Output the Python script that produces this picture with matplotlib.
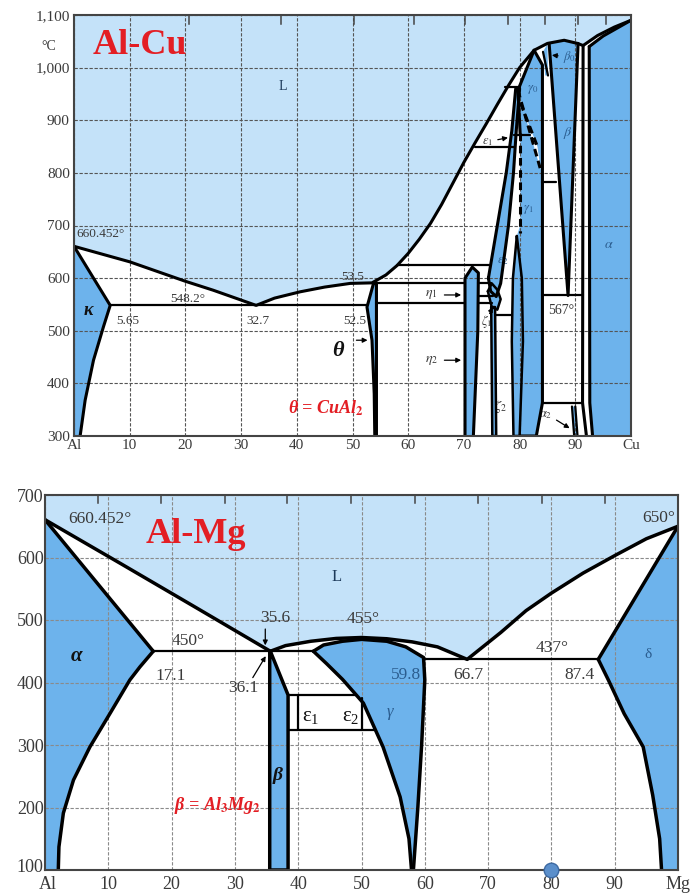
import matplotlib
matplotlib.use("Agg")
import matplotlib.pyplot as plt
import matplotlib.transforms as mtransforms

plt.rcParams['font.family'] = ['Liberation Serif', 'DejaVu Serif']
plt.rcParams['mathtext.fontset'] = 'stix'

LIQ = '#c4e2f9'
SOL = '#6db3ec'
RED = '#e31e24'
TXT = '#3a3a3a'
PH = '#2b5d8f'

# ---------------- Al-Cu data (wt% Cu, deg C) ----------------
cu_liq_left = [(0, 660.452), (10, 631), (20, 594), (25, 577), (32.7, 548.2)]
cu_liq_mid = [(32.7, 548.2), (36, 562), (40.6, 574), (45, 583), (49.6, 590), (53.5, 591)]
cu_liq_right = [(53.5, 591), (56, 606), (58, 624), (60, 647), (62, 674), (64, 704), (66, 740),
                (68, 780), (70, 820), (72, 857), (74, 893), (76, 930), (78, 966),
                (80, 1000), (82.6, 1033)]
cu_dome = [(82.6, 1033), (85, 1046), (88, 1052), (90.4, 1046), (91.4, 1042)]
cu_end_liq = [(91.4, 1042), (94, 1061), (97, 1077), (100, 1090)]
cu_end_sol = [(92.5, 1040), (95, 1060), (97.5, 1075), (100, 1090)]
kappa = [(0, 660.452), (6.5, 548.2), (5.3, 508), (3.5, 444), (2.0, 368), (1.1, 300), (0, 300)]
theta = [(53.8, 591), (52.6, 545), (53.5, 482), (53.9, 380), (54.0, 300), (54.3, 300), (54.3, 591)]
eta = [(70.2, 300), (70.2, 600), (71.5, 621), (72.6, 610), (72.5, 500), (71.7, 300)]
eps_band = [(74.4, 600), (76.0, 700), (77.6, 800), (78.6, 880), (79.3, 960), (80.0, 960),
            (79.4, 880), (78.9, 800), (78.0, 700), (76.6, 590), (75.8, 565), (74.8, 575)]
zeta1 = [(74.3, 575), (75.0, 590), (76.0, 578), (76.6, 560), (76.0, 540), (75.0, 545)]
zeta2 = [(74.9, 545), (75.6, 545), (75.8, 300), (75.1, 300)]
lens = [(79.5, 680), (78.8, 600), (78.6, 480), (78.9, 300), (80.0, 300), (80.6, 480), (80.4, 600)]
gamma_cu = [(82.6, 1033), (84.1, 1005), (84.1, 363), (83.0, 300), (80.0, 300), (80.6, 480),
            (80.4, 600), (79.5, 680), (80.1, 700), (80.1, 875), (79.7, 957)]
gamma_gap = [(79.7, 957), (83.8, 805), (83.2, 850), (80.2, 932)]
beta_cu = [(85.3, 1046), (88, 1052), (90.4, 1046), (88.7, 567)]
beta0 = [(84.2, 1030), (85.0, 1045), (85.1, 985), (84.6, 985)]
alpha_cu = [(92.5, 1040), (95, 1060), (97.5, 1075), (100, 1090), (100, 300), (93.1, 300), (92.6, 363)]
alpha2 = [(89.4, 356), (90.0, 356), (90.4, 300), (89.8, 300)]
cu_hlines = [(6.5, 52.6, 548.2), (58.0, 74.5, 624), (54.3, 70.2, 590), (72.6, 74.8, 590),
             (72.5, 75.3, 566), (54.3, 70.2, 553), (72.5, 75.0, 553), (75.8, 78.7, 530),
             (77.3, 80.0, 963), (72.0, 79.2, 850), (79.0, 81.9, 872), (84.1, 86.6, 783),
             (84.1, 91.3, 567), (84.1, 91.3, 363)]
cu_at_ticks = [20.7, 37.1, 50.3, 61.1, 70.2, 77.9, 84.6, 90.4, 95.5]

# ---------------- Al-Mg data (wt% Mg, deg C) ----------------
mg_liq_left = [(0, 660.452), (12, 590), (24, 519), (35.6, 450)]
mg_liq_mid = [(35.6, 450), (38, 459), (42, 466), (46, 470.5), (50, 472), (54, 470),
              (58, 465), (62, 457), (66.7, 437)]
mg_liq_right = [(66.7, 437), (72, 480), (76, 515), (80, 543), (85, 575), (90, 603),
                (95, 630), (100, 650)]
al_solidus = [(0, 660.452), (17.1, 450)]
al_solvus = [(17.1, 450), (15, 425), (13.4, 404), (10.3, 351), (7.1, 297), (4.5, 244),
             (2.9, 191), (2.2, 137), (2.1, 100)]
mg_solidus = [(100, 650), (87.4, 437)]
mg_solvus = [(87.4, 437), (89, 404), (91.5, 350), (94.5, 297), (96, 220), (97.1, 150), (97.4, 100)]
beta_mg = [(35.5, 450), (35.5, 100), (38.4, 100), (38.4, 380), (35.6, 450)]
gamma_top = [(42.4, 450), (44, 460), (47, 466), (50, 469), (54, 466), (57, 457), (59.8, 440)]
gamma_right = [(59.8, 440), (60.0, 404), (59.5, 300), (58.9, 200), (58.2, 100)]
gamma_left = [(42.4, 450), (44.5, 430), (47, 405), (50.3, 367), (53.4, 297), (56.1, 217),
              (57.5, 150), (57.9, 100)]
mg_hlines = [(17.1, 42.4, 450), (59.8, 87.4, 437), (38.4, 49.2, 380), (38.4, 52.2, 324)]
mg_vlines = [(40.0, 324, 380), (50.0, 324, 375)]
mg_at_ticks = [8.3, 18.4, 28.4, 38.3, 48.3, 58.5, 68.4, 78.5, 88.5]


def xs(p):
    return [a for a, b in p]


def ys(p):
    return [b for a, b in p]


def fill(ax, pts, c):
    ax.fill(xs(pts), ys(pts), color=c, lw=0, zorder=1)


def line(ax, pts, lw=2.2, ls='-'):
    ax.plot(xs(pts), ys(pts), color='k', lw=lw, ls=ls, zorder=4,
            solid_joinstyle='round', solid_capstyle='round')


def arrow(ax, x0, y0, x1, y1):
    ax.annotate('', xy=(x1, y1), xytext=(x0, y0),
                arrowprops=dict(arrowstyle='-|>', color='k', lw=0.9, mutation_scale=7), zorder=5)


def style(ax, ymin, ymax, yt, ylabels, right_name, fs, gridc, at_ticks):
    ax.set_xlim(0, 100)
    ax.set_ylim(ymin, ymax)
    ax.set_xticks(range(0, 101, 10))
    ax.set_xticklabels(['Al'] + [str(v) for v in range(10, 100, 10)] + [right_name])
    ax.set_yticks(yt)
    ax.set_yticklabels(ylabels)
    ax.tick_params(length=0, labelsize=fs, colors=TXT)
    ax.tick_params(axis='y', pad=3)
    ax.tick_params(axis='x', pad=2)
    ax.grid(True, color=gridc, ls=(0, (3, 1.5)), lw=0.8)
    ax.set_axisbelow(False)
    for s in ax.spines.values():
        s.set_color('#444')
        s.set_linewidth(1.5)
        s.set_zorder(6)
    tr = ax.get_xaxis_transform()
    for x in at_ticks:
        ax.plot([x, x], [1, 0.978], transform=tr, color='#444', lw=1.1, zorder=6)


fig = plt.figure(figsize=(6.98, 8.94), dpi=100)
ax1 = fig.add_axes([74 / 698, 1 - 436 / 894, 557 / 698, 421 / 894])
ax2 = fig.add_axes([45 / 698, 1 - 870 / 894, 633 / 698, 375 / 894])

# ================= Al-Cu =================
liquid_cu = cu_liq_left + cu_liq_mid + cu_liq_right + cu_dome + cu_end_liq + [(100, 1100), (0, 1100)]
fill(ax1, liquid_cu, LIQ)
for reg in [kappa, theta, eta, eps_band, zeta1, zeta2, lens, gamma_cu, beta_cu, beta0, alpha_cu, alpha2]:
    fill(ax1, reg, SOL)
fill(ax1, gamma_gap, 'white')
fill(ax1, [(79.4, 880), (80.1, 875), (80.1, 700), (78.0, 700), (78.9, 800)], 'white')

line(ax1, cu_liq_left + cu_liq_mid + cu_liq_right + cu_dome + cu_end_liq)
line(ax1, cu_end_sol)
line(ax1, kappa[:-1])
line(ax1, theta + theta[:1])
line(ax1, eta)
line(ax1, eps_band + eps_band[:1])
line(ax1, zeta1 + zeta1[:1], lw=1.8)
line(ax1, zeta2 + zeta2[:1], lw=1.8)
line(ax1, lens + lens[:1], lw=1.8)
line(ax1, gamma_cu[:5])
line(ax1, [(82.6, 1033), (79.7, 957), (80.1, 875)])
line(ax1, [(85.3, 1046), (88.7, 567), (90.5, 1046)])
line(ax1, [(84.2, 1030), (85.1, 985)], lw=1.6)
line(ax1, [(91.4, 1042), (91.3, 363), (92.0, 300)])
line(ax1, [(92.5, 1040), (92.6, 363), (93.1, 300)])
line(ax1, [(89.4, 356), (89.8, 300)], lw=1.6)
line(ax1, [(90.0, 356), (90.4, 300)], lw=1.6)
for x0, x1, t in cu_hlines:
    line(ax1, [(x0, t), (x1, t)], lw=1.6)
line(ax1, [(79.7, 957), (83.8, 805)], lw=2.2, ls=(0, (2.5, 1.5)))
line(ax1, [(80.2, 932), (83.2, 850)], lw=2.2, ls=(0, (2.5, 1.5)))
line(ax1, [(80.1, 875), (80.1, 686)], lw=2.2, ls=(0, (2.5, 1.5)))

style(ax1, 300, 1100, range(300, 1101, 100),
      ['300', '400', '500', '600', '700', '800', '900', '1,000', '1,100'],
      'Cu', 11, '#555555', cu_at_ticks)
ax1.text(-0.045, 1040, '°C', transform=ax1.get_yaxis_transform(), fontsize=10,
         color=TXT, ha='center', va='center')

ax1.text(3.3, 1042, 'Al-Cu', color=RED, fontsize=26, fontweight='bold', va='center')
ax1.text(37.4, 965, 'L', fontsize=10, color='#1d3a5a', ha='center', va='center')
ax1.text(0.4, 684, '660.452°', fontsize=9.5, color=TXT, va='center')
ax1.text(20.5, 561, '548.2°', fontsize=9.5, color=TXT, ha='center', va='center')
ax1.text(9.6, 518, '5.65', fontsize=9.5, color=TXT, ha='center', va='center')
ax1.text(33.0, 518, '32.7', fontsize=9.5, color=TXT, ha='center', va='center')
ax1.text(50.4, 518, '52.5', fontsize=9.5, color=TXT, ha='center', va='center')
ax1.text(50.0, 603, '53.5', fontsize=9.5, color=TXT, ha='center', va='center')
ax1.text(2.6, 538, 'κ', fontsize=13, fontweight='bold', style='italic', color='#111',
         ha='center', va='center')
ax1.text(47.3, 462, 'θ', fontsize=16, fontweight='bold', style='italic', color='#111',
         ha='center', va='center')
arrow(ax1, 50.2, 482, 53.2, 482)
ax1.text(45.3, 352, r'θ = CuAl$_\mathbf{2}$', fontsize=13, fontweight='bold', style='italic',
         color=RED, ha='center', va='center', zorder=7)
ax1.text(64.2, 568, r'$\eta_1$', fontsize=10, color=TXT, ha='center', va='center')
arrow(ax1, 66.0, 568, 70.0, 568)
ax1.text(64.2, 444, r'$\eta_2$', fontsize=10, color=TXT, ha='center', va='center')
arrow(ax1, 66.0, 444, 70.0, 444)
ax1.text(74.3, 858, r'$\epsilon_1$', fontsize=9, color=TXT, ha='center', va='center')
arrow(ax1, 75.6, 862, 78.4, 868)
ax1.text(77.0, 632, r'$\epsilon_2$', fontsize=9, color=PH, ha='center', va='center')
ax1.text(74.0, 518, r'$\zeta_1$', fontsize=9, color=TXT, ha='center', va='center')
arrow(ax1, 74.4, 528, 75.4, 550)
ax1.text(76.6, 357, r'$\zeta_2$', fontsize=10, color=TXT, ha='center', va='center')
ax1.text(82.4, 958, r'$\gamma_0$', fontsize=9, color=PH, ha='center', va='center')
ax1.text(81.6, 730, r'$\gamma_1$', fontsize=9, color=PH, ha='center', va='center')
ax1.text(89.0, 1020, r'$\beta_0$', fontsize=9, color=PH, ha='center', va='center')
arrow(ax1, 87.4, 1022, 85.3, 1024)
ax1.text(88.6, 876, r'$\beta$', fontsize=10, color=PH, ha='center', va='center')
ax1.text(96.0, 663, r'$\alpha$', fontsize=10, color=PH, ha='center', va='center')
ax1.text(87.4, 538, '567°', fontsize=10, color=TXT, ha='center', va='center')
ax1.text(84.6, 340, r'$\alpha_2$', fontsize=9, color=TXT, ha='center', va='center')
arrow(ax1, 86.2, 333, 89.4, 312)

# ================= Al-Mg =================
fill(ax2, mg_liq_left + mg_liq_mid + mg_liq_right + [(100, 700), (0, 700)], LIQ)
fill(ax2, al_solidus + al_solvus + [(0, 100)], SOL)
fill(ax2, mg_solidus + mg_solvus + [(100, 100)], SOL)
fill(ax2, beta_mg, SOL)
fill(ax2, gamma_top + gamma_right + gamma_left[::-1], SOL)

line(ax2, mg_liq_left + mg_liq_mid + mg_liq_right, lw=2.5)
line(ax2, al_solidus, lw=2.5)
line(ax2, al_solvus, lw=2.5)
line(ax2, mg_solidus, lw=2.5)
line(ax2, mg_solvus, lw=2.5)
line(ax2, beta_mg, lw=2.5)
line(ax2, gamma_top + gamma_right, lw=2.5)
line(ax2, gamma_left, lw=2.5)
for x0, x1, t in mg_hlines:
    line(ax2, [(x0, t), (x1, t)], lw=1.6)
for x, t0, t1 in mg_vlines:
    line(ax2, [(x, t0), (x, t1)], lw=1.6)

style(ax2, 100, 700, range(100, 701, 100), [str(v) for v in range(100, 701, 100)],
      'Mg', 13, '#8a8a8a', mg_at_ticks)
ax2.tick_params(axis='y', pad=1)
ax2.tick_params(axis='x', pad=4)
# nudge the corner labels apart so "100" and "Al" do not collide
fig.canvas.draw()
lab100 = ax2.yaxis.get_major_ticks()[0].label1
lab100.set_transform(lab100.get_transform() + mtransforms.ScaledTranslation(0, 3 / 72, fig.dpi_scale_trans))
labAl = ax2.xaxis.get_major_ticks()[0].label1
labAl.set_transform(labAl.get_transform() + mtransforms.ScaledTranslation(2 / 72, 0, fig.dpi_scale_trans))

ax2.text(3.6, 661, '660.452°', fontsize=12.5, color=TXT, va='center')
ax2.text(23.8, 637, 'Al-Mg', color=RED, fontsize=26, fontweight='bold', ha='center', va='center')
ax2.text(46.1, 569, 'L', fontsize=12, color='#1d3a5a', ha='center', va='center')
ax2.text(99.6, 664, '650°', fontsize=12.5, color=TXT, ha='right', va='center')
ax2.text(4.9, 443, 'α', fontsize=15, fontweight='bold', style='italic', color='#111',
         ha='center', va='center')
ax2.text(36.4, 503, '35.6', fontsize=12.5, color=TXT, ha='center', va='center')
arrow(ax2, 34.8, 490, 34.8, 455)
ax2.text(22.6, 467, '450°', fontsize=12.5, color=TXT, ha='center', va='center')
ax2.text(50.2, 501, '455°', fontsize=12.5, color=TXT, ha='center', va='center')
ax2.text(19.8, 410, '17.1', fontsize=12.5, color=TXT, ha='center', va='center')
ax2.text(31.3, 391, '36.1', fontsize=12.5, color=TXT, ha='center', va='center')
arrow(ax2, 32.6, 404, 35.1, 446)
ax2.text(57.0, 412, '59.8', fontsize=12.5, color=PH, ha='center', va='center')
ax2.text(66.8, 412, '66.7', fontsize=12.5, color=TXT, ha='center', va='center')
ax2.text(80.1, 455, '437°', fontsize=12.5, color=TXT, ha='center', va='center')
ax2.text(84.4, 412, '87.4', fontsize=12.5, color=TXT, ha='center', va='center')
ax2.text(95.3, 444, 'δ', fontsize=11, color=PH, ha='center', va='center')
ax2.text(42.0, 346, r'$\mathregular{\epsilon_1}$', fontsize=15, color='#111', ha='center', va='center')
ax2.text(48.3, 346, r'$\mathregular{\epsilon_2}$', fontsize=15, color='#111', ha='center', va='center')
ax2.text(54.5, 352, 'γ', fontsize=12, style='italic', color=PH, ha='center', va='center')
ax2.text(36.8, 251, 'β', fontsize=14, fontweight='bold', style='italic', color='#111',
         ha='center', va='center')
ax2.text(27.3, 204, r'β = Al$_\mathbf{3}$Mg$_\mathbf{2}$', fontsize=13, fontweight='bold',
         style='italic', color=RED, ha='center', va='center')
ax2.scatter([80], [100], s=110, color='#5b8fcb', edgecolor='#3d6aa3', zorder=7, clip_on=False)

fig.savefig('out.png', dpi=100)
